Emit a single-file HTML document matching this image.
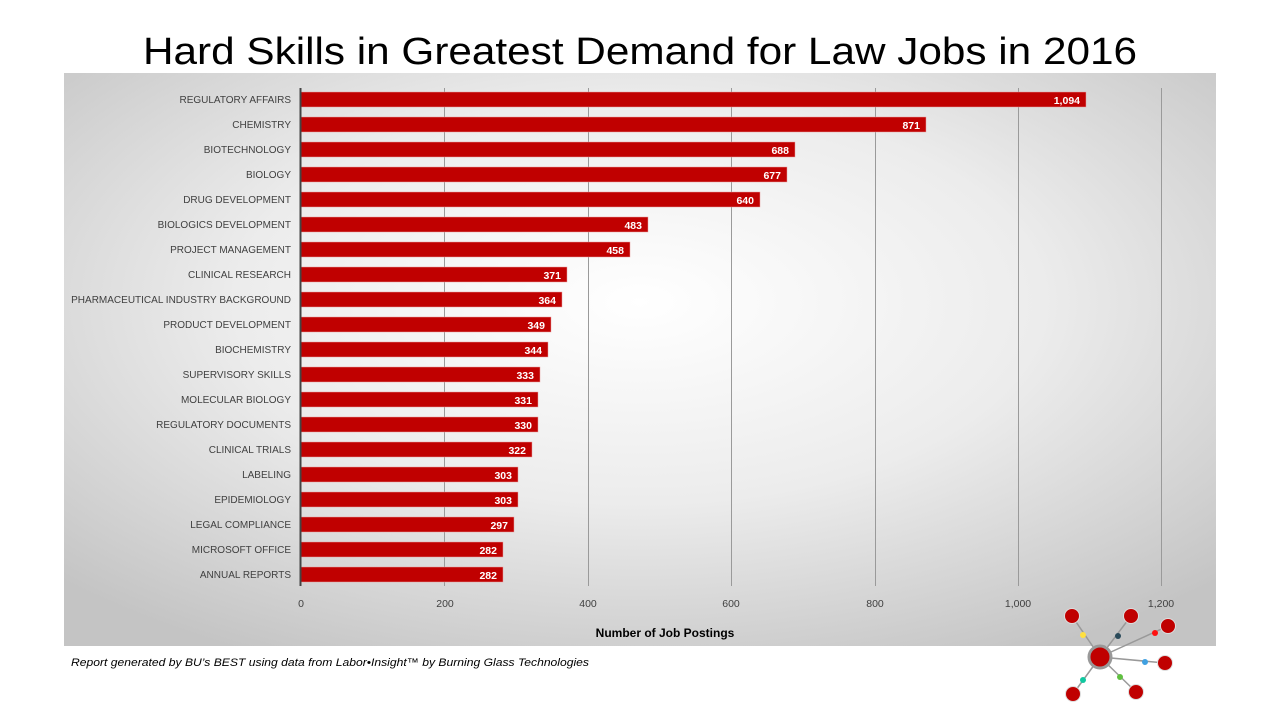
<!DOCTYPE html>
<html><head><meta charset="utf-8"><style>
body{margin:0;width:1280px;height:720px;background:#fff;overflow:hidden;font-family:"Liberation Sans",sans-serif}
</style></head><body>
<svg width="1280" height="720" viewBox="0 0 1280 720" xmlns="http://www.w3.org/2000/svg" font-family="Liberation Sans, sans-serif">
<defs>
<radialGradient id="bg" cx="0.5" cy="0.4" r="0.7">
<stop offset="0" stop-color="#ffffff"/><stop offset="0.5" stop-color="#ececec"/><stop offset="1" stop-color="#c4c4c4"/>
</radialGradient>
</defs>
<text x="143" y="64" font-size="38" fill="#000" textLength="994" lengthAdjust="spacingAndGlyphs">Hard Skills in Greatest Demand for Law Jobs in 2016</text>
<rect x="64" y="73" width="1152" height="573" fill="url(#bg)"/>
<g stroke="#9a9a9a" stroke-width="1">
<line x1="444.5" y1="88" x2="444.5" y2="586"/><line x1="588.5" y1="88" x2="588.5" y2="586"/>
<line x1="731.5" y1="88" x2="731.5" y2="586"/><line x1="875.5" y1="88" x2="875.5" y2="586"/>
<line x1="1018.5" y1="88" x2="1018.5" y2="586"/><line x1="1161.5" y1="88" x2="1161.5" y2="586"/>
</g>
<g fill="#c00000" stroke="#e8a0a0" stroke-width="0.5">
<rect x="301" y="92" width="785" height="15"/><rect x="301" y="117" width="625" height="15"/>
<rect x="301" y="142" width="494" height="15"/><rect x="301" y="167" width="486" height="15"/>
<rect x="301" y="192" width="459" height="15"/><rect x="301" y="217" width="347" height="15"/>
<rect x="301" y="242" width="329" height="15"/><rect x="301" y="267" width="266" height="15"/>
<rect x="301" y="292" width="261" height="15"/><rect x="301" y="317" width="250" height="15"/>
<rect x="301" y="342" width="247" height="15"/><rect x="301" y="367" width="239" height="15"/>
<rect x="301" y="392" width="237" height="15"/><rect x="301" y="417" width="237" height="15"/>
<rect x="301" y="442" width="231" height="15"/><rect x="301" y="467" width="217" height="15"/>
<rect x="301" y="492" width="217" height="15"/><rect x="301" y="517" width="213" height="15"/>
<rect x="301" y="542" width="202" height="15"/><rect x="301" y="567" width="202" height="15"/>
</g>
<line x1="300.5" y1="88" x2="300.5" y2="586" stroke="#444" stroke-width="2"/>
<g fill="#fff" font-size="10.5" font-weight="bold" text-anchor="end">
<text x="1080" y="104">1,094</text><text x="920" y="129">871</text><text x="789" y="154">688</text>
<text x="781" y="179">677</text><text x="754" y="204">640</text><text x="642" y="229">483</text>
<text x="624" y="254">458</text><text x="561" y="279">371</text><text x="556" y="304">364</text>
<text x="545" y="329">349</text><text x="542" y="354">344</text><text x="534" y="379">333</text>
<text x="532" y="404">331</text><text x="532" y="429">330</text><text x="526" y="454">322</text>
<text x="512" y="479">303</text><text x="512" y="504">303</text><text x="508" y="529">297</text>
<text x="497" y="554">282</text><text x="497" y="579">282</text>
</g>
<g fill="#404040" font-size="10" text-anchor="end">
<text x="291" y="103">REGULATORY AFFAIRS</text><text x="291" y="128">CHEMISTRY</text>
<text x="291" y="153">BIOTECHNOLOGY</text><text x="291" y="178">BIOLOGY</text>
<text x="291" y="203">DRUG DEVELOPMENT</text><text x="291" y="228">BIOLOGICS DEVELOPMENT</text>
<text x="291" y="253">PROJECT MANAGEMENT</text><text x="291" y="278">CLINICAL RESEARCH</text>
<text x="291" y="303">PHARMACEUTICAL INDUSTRY BACKGROUND</text><text x="291" y="328">PRODUCT DEVELOPMENT</text>
<text x="291" y="353">BIOCHEMISTRY</text><text x="291" y="378">SUPERVISORY SKILLS</text>
<text x="291" y="403">MOLECULAR BIOLOGY</text><text x="291" y="428">REGULATORY DOCUMENTS</text>
<text x="291" y="453">CLINICAL TRIALS</text><text x="291" y="478">LABELING</text>
<text x="291" y="503">EPIDEMIOLOGY</text><text x="291" y="528">LEGAL COMPLIANCE</text>
<text x="291" y="553">MICROSOFT OFFICE</text><text x="291" y="578">ANNUAL REPORTS</text>
</g>
<g fill="#404040" font-size="10.5" text-anchor="middle">
<text x="301" y="607">0</text><text x="445" y="607">200</text><text x="588" y="607">400</text>
<text x="731" y="607">600</text><text x="875" y="607">800</text><text x="1018" y="607">1,000</text><text x="1161" y="607">1,200</text>
</g>
<text x="665" y="637" text-anchor="middle" font-size="12" font-weight="bold" fill="#000">Number of Job Postings</text>
<text x="71" y="666" font-size="11" font-style="italic" fill="#000" textLength="518" lengthAdjust="spacingAndGlyphs">Report generated by BU’s BEST using data from Labor•Insight™ by Burning Glass Technologies</text>
<g stroke="#999" stroke-width="1.5">
<line x1="1100" y1="657" x2="1072" y2="616"/><line x1="1100" y1="657" x2="1131" y2="616"/>
<line x1="1100" y1="657" x2="1168" y2="626"/><line x1="1100" y1="657" x2="1165" y2="663"/>
<line x1="1100" y1="657" x2="1136" y2="692"/><line x1="1100" y1="657" x2="1073" y2="694"/>
</g>
<g fill="#c00000" stroke="#ddd" stroke-width="1">
<circle cx="1072" cy="616" r="7.5"/><circle cx="1131" cy="616" r="7.5"/><circle cx="1168" cy="626" r="7.5"/>
<circle cx="1165" cy="663" r="7.5"/><circle cx="1136" cy="692" r="7.5"/><circle cx="1073" cy="694" r="7.5"/>
</g>
<circle cx="1100" cy="657" r="11" fill="#c00000" stroke="#999" stroke-width="3"/>
<circle cx="1083" cy="635" r="3" fill="#ffe040"/><circle cx="1118" cy="636" r="3" fill="#2a4a5a"/>
<circle cx="1155" cy="633" r="3" fill="#ff1010"/><circle cx="1145" cy="662" r="3" fill="#40a0e0"/>
<circle cx="1120" cy="677" r="3" fill="#60c040"/><circle cx="1083" cy="680" r="3" fill="#10c8a0"/>
</svg>
</body></html>
